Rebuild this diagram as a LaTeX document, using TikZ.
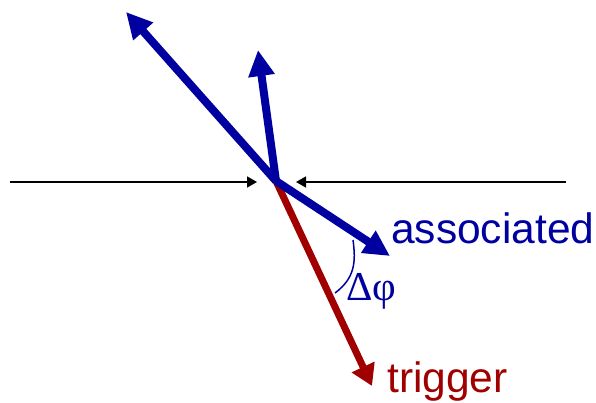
\documentclass[tikz,border=0pt]{standalone}
\usepackage{fontspec}
\setmainfont{Liberation Sans}
\newfontfamily\serifface{Liberation Serif}
\usetikzlibrary{arrows.meta}
\definecolor{dblue}{HTML}{0000A0}
\definecolor{dred}{HTML}{A00000}
\begin{document}
\begin{tikzpicture}[x=1pt,y=-1pt,
  bluearrow/.style={draw=dblue,line width=8pt,-{Triangle[length=26pt,width=25pt]},fill=dblue},
  redarrow/.style={draw=dred,line width=7pt,-{Triangle[length=21pt,width=24pt]},fill=dred},
  blackarrow/.style={draw=black,line width=1.6pt,-{Triangle[length=10pt,width=11pt]}},
  lbl/.style={inner sep=0pt,anchor=base west,font=\fontsize{42.5}{46}\selectfont}]
\useasboundingbox (0,0) rectangle (596,402);
\coordinate (o) at (276,181);
\coordinate (ul) at (126,12);
\coordinate (up) at (258,50);
\coordinate (as) at (390,256);
\coordinate (tr) at (372,386);
\coordinate (lft) at (10,182);
\coordinate (rgt) at (566,182);
\coordinate (ltip) at (257,182);
\coordinate (rtip) at (296,182);
\draw[blackarrow] (lft) -- (ltip);
\draw[blackarrow] (rgt) -- (rtip);
\draw[redarrow] (o) -- (tr);
\draw[bluearrow] (o) -- (ul);
\draw[bluearrow] (o) -- (up);
\draw[bluearrow] (o) -- (as);
\coordinate (a1) at (353,240);
\coordinate (a2) at (335,293);
\draw[dblue,line width=1.5pt] (a1) .. controls (356,262) and (355,278) .. (a2);
\node[lbl,text=dblue] (tas) at (391,243) {associated};
\node[lbl,text=dred] (ttr) at (387,392) {trigger};
\node[inner sep=0pt,anchor=base west,text=dblue,font=\serifface\fontsize{41}{44}\selectfont] (dphi) at (346,300) {Δφ};
\end{tikzpicture}
\end{document}
